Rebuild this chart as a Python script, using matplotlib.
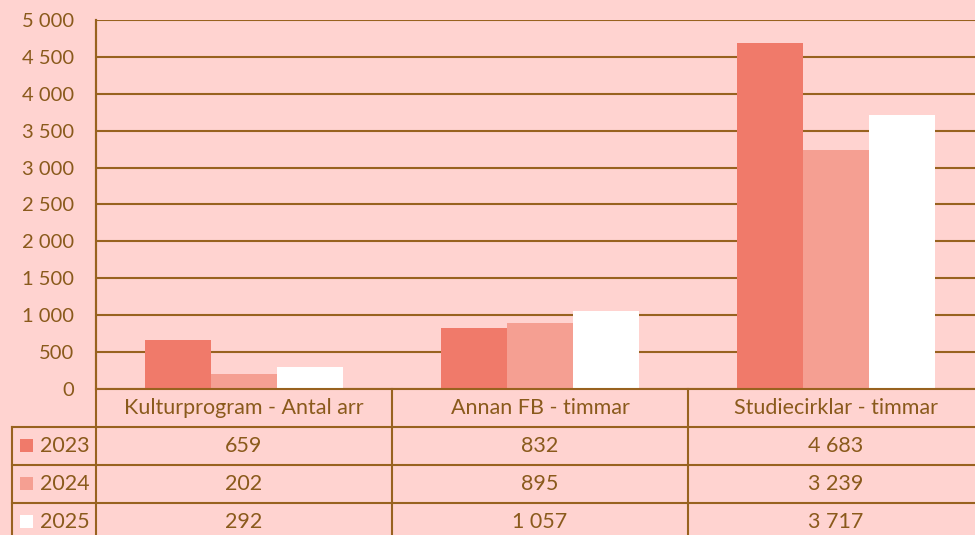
import numpy as np
import matplotlib.pyplot as plt

categories = ['Kulturprogram - Antal arr', 'Annan FB - timmar', 'Studiecirklar - timmar']
years = ['2023', '2024', '2025']
v2023 = [659, 832, 4683]
v2024 = [202, 895, 3239]
v2025 = [292, 1057, 3717]
yticks = [0, 500, 1000, 1500, 2000, 2500, 3000, 3500, 4000, 4500, 5000]

bg = '#FFD3D0'
brown = '#98621F'
txt = '#8A5A1C'
colors = ['#F07A6A', '#F59F92', '#FFFFFF']

plt.rcParams['font.family'] = ['Lato', 'DejaVu Sans']

def fmt(v):
    return '{:,}'.format(v).replace(',', ' ')

W, H = 975, 535
fig = plt.figure(figsize=(W / 100, H / 100), dpi=100, facecolor=bg)

# plot area in pixels
L, R, T, B = 96, 984, 20, 389
ax = fig.add_axes([L / W, 1 - B / H, (R - L) / W, (B - T) / H])
ax.set_facecolor(bg)

x = np.arange(len(categories))
w = 1 / 4.5
series = [v2023, v2024, v2025]
for i, vals in enumerate(series):
    ax.bar(x + (i - 1) * w, vals, width=w, color=colors[i], zorder=3, linewidth=0)

ax.set_xlim(-0.5, len(categories) - 0.5)
ax.set_ylim(0, 5000)
ax.set_yticks(yticks)
ax.set_yticklabels([fmt(t) for t in yticks], color=txt, fontsize=14.5)
ax.tick_params(axis='y', length=0, pad=16)
ax.set_xticks([])
ax.grid(axis='y', color=brown, linewidth=1.5, zorder=1)
for s in ['top', 'right', 'bottom']:
    ax.spines[s].set_visible(False)
ax.spines['left'].set_color(brown)
ax.spines['left'].set_linewidth(1.5)

# data table below the plot
tb = fig.add_axes([0, 0, 1, 1], facecolor='none')
tb.set_xlim(0, W)
tb.set_ylim(H, 0)
tb.axis('off')
rowh = 38
cw = (R - L) / len(categories)
lx = 12
lw = 1.5
fs = 15.5
tb.plot([L, R], [B, B], color=brown, lw=lw)
for r in range(1, len(years) + 1):
    tb.plot([lx, R], [B + r * rowh] * 2, color=brown, lw=lw)
for c in range(len(categories) + 1):
    tb.plot([L + c * cw] * 2, [T, B + 5 * rowh] if c == 0 else [B, B + 5 * rowh], color=brown, lw=lw)
tb.plot([lx, lx], [B + rowh, B + 5 * rowh], color=brown, lw=lw)

for c, cat in enumerate(categories):
    tb.text(L + (c + 0.5) * cw, B + rowh / 2, cat, ha='center', va='center', color=txt, fontsize=fs)
for r, (yr, vals) in enumerate(zip(years, series)):
    yc = B + (r + 1.5) * rowh
    tb.add_patch(plt.Rectangle((20, yc - 7), 13, 13, color=colors[r], lw=0))
    tb.text(40, yc, yr, ha='left', va='center', color=txt, fontsize=fs)
    for c, v in enumerate(vals):
        tb.text(L + (c + 0.5) * cw, yc, fmt(v), ha='center', va='center', color=txt, fontsize=fs)

fig.savefig('out.png', dpi=100, facecolor=bg)
